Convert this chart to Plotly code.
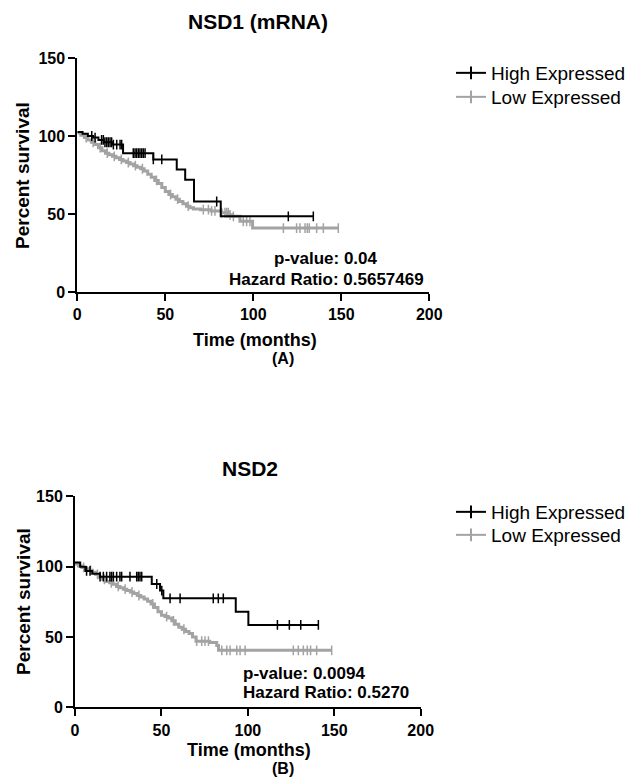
import numpy as np
import plotly.graph_objects as go

# ---------------- Data ----------------
# Panel A : NSD1 (mRNA)
a_high_t = [0, 3, 6, 9, 12, 15, 20, 26, 43.2, 56.5, 61.3, 66.3, 81.5, 134.1]
a_high_s = [102.5, 101.5, 100, 99, 97.5, 96, 94.5, 89, 85, 78.5, 72, 58, 48.5, 48.5]
a_high_cens = [8.2, 10.1, 13.8, 14.8, 15.7, 16.7, 17.6, 18.6, 19.5, 20.5, 22.4, 24.3, 25.2,
               31.8, 32.8, 33.7, 34.7, 35.6, 36.6, 37.5, 38.5, 43.2, 48, 79.2, 119.9, 134.1]

a_low_t = [0, 2, 4, 6, 8, 10, 12, 14, 16, 18, 20, 22, 24, 26, 28, 30, 32, 34, 36, 38, 40,
           42, 44, 46, 48, 50, 52, 54, 56, 58, 60, 62, 64, 66, 70, 76, 82, 86, 88, 92.4, 99.6, 148.3]
a_low_s = [102, 100.5, 99, 97.5, 96, 94.5, 92.5, 90.5, 89, 88, 87, 86, 85, 84, 83, 82, 81, 80,
           79, 77.5, 75.5, 73.5, 71.5, 69.5, 67, 64.5, 62.5, 61, 59.5, 58, 56.5, 55, 54, 53.2,
           52.8, 52, 50.8, 49.5, 48.5, 45.3, 41, 41]
a_low_cens = [5, 9, 13, 17, 21, 25, 29, 33, 37, 45, 53, 57, 63, 71.6, 74.5, 76.3, 78.2, 82,
              83.9, 84.9, 85.8, 86.8, 88.7, 94.3, 96.2, 98.1, 117.1, 124.6, 126.5, 129.4,
              130.7, 131.8, 136, 139.8, 148.3]

# Panel B : NSD2
b_high_t = [0, 3, 6, 10, 14.5, 44.4, 49.2, 51.1, 93, 100.3, 140.8]
b_high_s = [103, 100, 97, 95, 92.9, 87.7, 83, 77.5, 68, 58.6, 58.6]
b_high_cens = [6.7, 8.7, 14.5, 16.4, 18.3, 20.2, 21.2, 22.2, 24.1, 26, 27, 31.8, 35.7, 36.6,
               37.6, 38.6, 47.3, 50.2, 55, 60.8, 80, 82.9, 85.8, 117.1, 124, 130.6, 140.8]

b_low_t = [0, 2, 4, 6, 8, 10, 12, 14, 16, 18, 20, 22, 24, 26, 28, 30, 32, 34, 36, 38, 40,
           42, 44, 46, 48, 50, 52, 54, 56, 58, 60, 62, 64, 66, 68, 70, 78, 82, 83, 148.5]
b_low_s = [102, 100.5, 99.5, 98.5, 97.5, 96, 94.5, 92.5, 91, 89.5, 88.5, 87.5, 86, 85, 84,
           83, 82, 81, 79.5, 78.5, 77, 75.5, 73.5, 71, 68, 65.5, 64.5, 63.5, 61.5, 59, 57,
           55.5, 54, 52.5, 50, 47, 46, 44, 40.5, 40.5]
b_low_cens = [5, 9, 13, 17, 21, 25, 29, 33, 37, 45, 53, 57, 63, 70.4, 73.3, 75.2, 77.2, 84.9,
              87.8, 89.7, 93.6, 95.5, 98.4, 126.3, 129.2, 132.1, 134.4, 136.3, 139.8, 148.5]

series_names = ["High Expressed", "Low Expressed"]
x_ticks = [0, 50, 100, 150, 200]
y_ticks = [0, 50, 100, 150]
titles = ["NSD1 (mRNA)", "NSD2"]
panel_labels = ["(A)", "(B)"]
stats_a = ["p-value: 0.04", "Hazard Ratio: 0.5657469"]
stats_b = ["p-value: 0.0094", "Hazard Ratio: 0.5270"]

# ---------------- Style ----------------
FONT = "Liberation Sans, Arial, sans-serif"
BLACK = "#000000"
GRAY = "#a3a3a3"
W, H = 630, 783


def px_x(p):
    return p / W


def px_y(p):
    return 1 - p / H


def step_at(ts, ss, cs):
    ts = np.asarray(ts)
    ss = np.asarray(ss)
    idx = np.searchsorted(ts, np.asarray(cs), side="right") - 1
    return ss[np.clip(idx, 0, len(ss) - 1)]


fig = go.Figure()

panels = [
    dict(xa="x", ya="y", legends=("legend", "legend2"),
         high=(a_high_t, a_high_s, a_high_cens), low=(a_low_t, a_low_s, a_low_cens)),
    dict(xa="x2", ya="y2", legends=("legend3", "legend4"),
         high=(b_high_t, b_high_s, b_high_cens), low=(b_low_t, b_low_s, b_low_cens)),
]

for p in panels:
    for key, color, lw in [("low", GRAY, 3), ("high", BLACK, 2)]:
        t, s, c = p[key]
        fig.add_trace(go.Scatter(x=t, y=s, mode="lines", line=dict(color=color, width=lw, shape="hv"),
                                 xaxis=p["xa"], yaxis=p["ya"], showlegend=False, hoverinfo="skip"))
        fig.add_trace(go.Scatter(x=c, y=step_at(t, s, c), mode="markers",
                                 marker=dict(symbol="line-ns", size=7,
                                             line=dict(color=color, width=1.5)),
                                 xaxis=p["xa"], yaxis=p["ya"], showlegend=False, hoverinfo="skip"))
    # legend entries
    for color, name, lg in [(BLACK, series_names[0], p["legends"][0]),
                            (GRAY, series_names[1], p["legends"][1])]:
        fig.add_trace(go.Scatter(x=[None], y=[None], mode="lines+markers", name=name,
                                 line=dict(color=color, width=2),
                                 marker=dict(symbol="line-ns", size=9, line=dict(color=color, width=2)),
                                 xaxis=p["xa"], yaxis=p["ya"], legend=lg))

axis_common = dict(showgrid=False, zeroline=False, showline=True, linecolor=BLACK, linewidth=2,
                   ticks="outside", ticklen=7, tickwidth=2, tickcolor=BLACK, automargin=False,
                   tickfont=dict(family=FONT, size=16, color=BLACK, weight="bold"))


def legend_at(x, y):
    return dict(x=px_x(x), y=px_y(y), xanchor="left", yanchor="middle", bgcolor="rgba(0,0,0,0)",
                font=dict(family=FONT, size=19, color=BLACK), itemwidth=30)


fig.update_layout(
    width=W, height=H, margin=dict(l=0, r=0, t=0, b=0, autoexpand=False),
    paper_bgcolor="white", plot_bgcolor="white",
    xaxis=dict(domain=[px_x(77.3), px_x(429.3)], range=[0, 200], tickvals=x_ticks, anchor="y", **axis_common),
    yaxis=dict(domain=[px_y(292), px_y(58)], range=[0, 150], tickvals=y_ticks, anchor="x", **axis_common),
    xaxis2=dict(domain=[px_x(75), px_x(420.7)], range=[0, 200], tickvals=x_ticks, anchor="y2", **axis_common),
    yaxis2=dict(domain=[px_y(707.3), px_y(496.4)], range=[0, 150], tickvals=y_ticks, anchor="x2", **axis_common),
    legend=legend_at(451, 73),
    legend2=legend_at(451, 97),
    legend3=legend_at(451, 512),
    legend4=legend_at(451, 535),
)

ann = []


def add_text(text, x, y, size, xanchor="center", angle=0):
    ann.append(dict(text=text, x=px_x(x), y=px_y(y), xref="paper", yref="paper", showarrow=False,
                    xanchor=xanchor, yanchor="middle", textangle=angle,
                    font=dict(family=FONT, size=size, color=BLACK, weight="bold")))


add_text(titles[0], 258, 21, 21)
add_text(titles[1], 250, 468, 21)
add_text("Percent survival", 23, 176, 19, angle=-90)
add_text("Percent survival", 23, 602, 19, angle=-90)
add_text("Time (months)", 255, 340, 18)
add_text("Time (months)", 249, 750, 18)
add_text(panel_labels[0], 283, 359, 16)
add_text(panel_labels[1], 283, 768, 16)
add_text(stats_a[0], 326, 258, 17)
add_text(stats_a[1], 326, 279, 17)
add_text(stats_b[0], 241, 673, 17, xanchor="left")
add_text(stats_b[1], 241, 692, 17, xanchor="left")

fig.update_layout(annotations=ann)
fig.write_html("out.html", config={"displayModeBar": False},
               post_script="document.body.style.margin='0px';")
